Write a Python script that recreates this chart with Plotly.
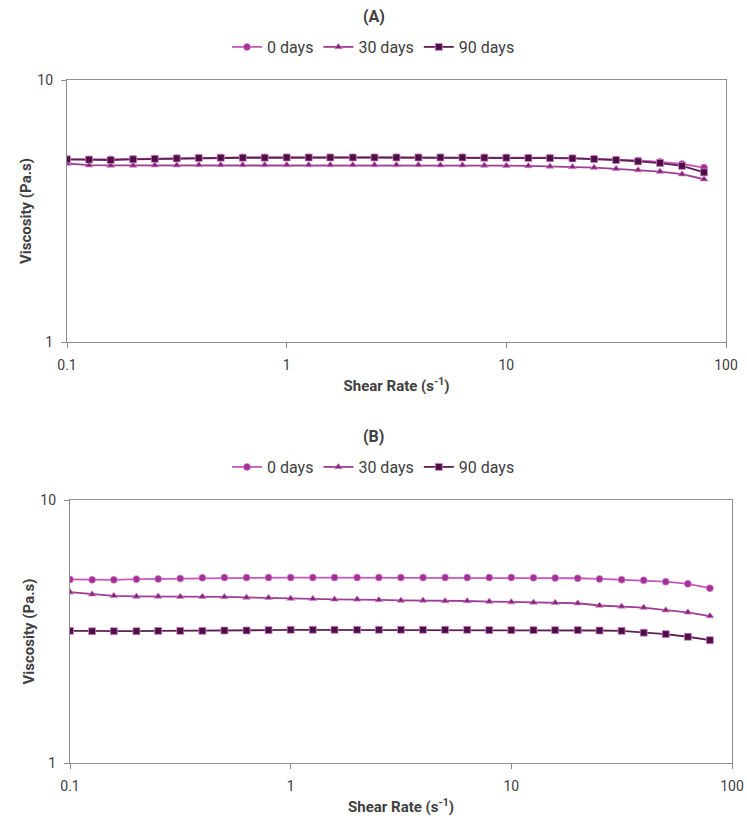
import plotly.graph_objects as go

# Shear rates (s^-1), ten points per decade
shear_rate = [0.1, 0.126, 0.158, 0.2, 0.251, 0.316, 0.398, 0.501, 0.631, 0.794,
              1.0, 1.26, 1.58, 2.0, 2.51, 3.16, 3.98, 5.01, 6.31, 7.94,
              10.0, 12.6, 15.8, 20.0, 25.1, 31.6, 39.8, 50.1, 63.1, 79.4]

series_names = ["0 days", "30 days", "90 days"]

# Panel (A) viscosity (Pa.s)
a_0 = [4.98, 4.97, 4.98, 5.00, 5.02, 5.03, 5.05, 5.06, 5.07, 5.07,
       5.07, 5.07, 5.07, 5.07, 5.07, 5.07, 5.07, 5.07, 5.07, 5.07,
       5.06, 5.06, 5.05, 5.03, 5.00, 4.97, 4.93, 4.87, 4.78, 4.63]
a_30 = [4.80, 4.73, 4.72, 4.72, 4.73, 4.73, 4.74, 4.74, 4.74, 4.74,
        4.74, 4.74, 4.74, 4.74, 4.74, 4.74, 4.74, 4.73, 4.73, 4.72,
        4.71, 4.70, 4.68, 4.66, 4.63, 4.58, 4.53, 4.47, 4.37, 4.18]
a_90 = [4.98, 4.97, 4.95, 4.98, 5.00, 5.02, 5.04, 5.05, 5.05, 5.05,
        5.06, 5.06, 5.06, 5.06, 5.06, 5.06, 5.06, 5.06, 5.06, 5.05,
        5.05, 5.04, 5.03, 5.02, 4.99, 4.95, 4.89, 4.82, 4.70, 4.44]

# Panel (B) viscosity (Pa.s)
b_0 = [4.99, 4.97, 4.97, 5.00, 5.01, 5.03, 5.06, 5.07, 5.07, 5.07,
       5.07, 5.07, 5.07, 5.07, 5.07, 5.07, 5.07, 5.07, 5.07, 5.07,
       5.07, 5.06, 5.05, 5.04, 5.01, 4.98, 4.95, 4.89, 4.80, 4.62]
b_30 = [4.46, 4.38, 4.32, 4.30, 4.30, 4.29, 4.29, 4.28, 4.26, 4.25,
        4.22, 4.21, 4.19, 4.19, 4.17, 4.15, 4.15, 4.13, 4.13, 4.11,
        4.09, 4.08, 4.07, 4.05, 3.97, 3.94, 3.90, 3.81, 3.74, 3.62]
b_90 = [3.18, 3.17, 3.17, 3.17, 3.18, 3.18, 3.18, 3.19, 3.19, 3.20,
        3.21, 3.21, 3.21, 3.21, 3.21, 3.21, 3.21, 3.21, 3.21, 3.20,
        3.20, 3.20, 3.20, 3.20, 3.19, 3.18, 3.13, 3.09, 3.02, 2.93]

line_colors = ["#C558B9", "#9E3F93", "#5E1E56"]
marker_colors = ["#A32F97", "#86257B", "#4E0E46"]
symbols = ["circle", "triangle-up", "square"]

W, H = 747, 821
FONT = "Roboto, Arial, sans-serif"
AXIS_GREY = "#8C8C8C"
TEXT_GREY = "#404040"

fig = go.Figure()

panels = [
    ([a_0, a_30, a_90], "x", "y", "legend"),
    ([b_0, b_30, b_90], "x2", "y2", "legend2"),
]
for values, xa, ya, lg in panels:
    for name, vals, lc, mc, sym in zip(series_names, values, line_colors,
                                       marker_colors, symbols):
        fig.add_trace(go.Scatter(
            x=shear_rate, y=vals, name=name, mode="lines+markers",
            xaxis=xa, yaxis=ya, legend=lg,
            line=dict(color=lc, width=1.8),
            marker=dict(symbol=sym, color=mc, size=7,
                        line=dict(color="rgba(214,140,205,0.9)", width=0.8)),
        ))


def xdom(l, r):
    return [l / W, r / W]


def ydom(t, b):
    return [1 - b / H, 1 - t / H]


axis_common = dict(
    type="log", showline=True, linecolor=AXIS_GREY, linewidth=1.3, mirror=True,
    ticks="outside", ticklen=5, tickcolor=AXIS_GREY, tickwidth=1.2,
    showgrid=False, zeroline=False, automargin=False, ticklabelstandoff=5,
    tickfont=dict(family=FONT, size=14, color=TEXT_GREY),
)

xtitle = dict(text="<b>Shear Rate (s<sup>-1</sup>)</b>",
              font=dict(family=FONT, size=15, color=TEXT_GREY), standoff=8)
ytitle = dict(text="<b>Viscosity (Pa.s)</b>",
              font=dict(family=FONT, size=15, color=TEXT_GREY), standoff=2)

xticks = dict(tickvals=[0.1, 1, 10, 100], ticktext=["0.1", "1", "10", "100"])
yticks = dict(tickvals=[1, 10], ticktext=["1", "10"])

legend_common = dict(orientation="h", x=0.5, xanchor="center", yanchor="middle",
                     font=dict(family=FONT, size=16, color=TEXT_GREY),
                     itemwidth=30, tracegroupgap=0, bgcolor="rgba(0,0,0,0)")

fig.update_layout(
    width=W, height=H,
    margin=dict(l=0, r=0, t=0, b=0, autoexpand=False),
    paper_bgcolor="white", plot_bgcolor="white",
    font=dict(family=FONT, color=TEXT_GREY),
    xaxis=dict(axis_common, domain=xdom(67, 726), range=[-1, 2],
               anchor="y", title=xtitle, **xticks),
    yaxis=dict(axis_common, domain=ydom(80, 342), range=[0, 1],
               anchor="x", title=ytitle, **yticks),
    xaxis2=dict(axis_common, domain=xdom(70, 732), range=[-1, 2],
                anchor="y2", title=xtitle, **xticks),
    yaxis2=dict(axis_common, domain=ydom(500, 763), range=[0, 1],
                anchor="x2", title=ytitle, **yticks),
    legend=dict(legend_common, y=1 - 47 / H),
    legend2=dict(legend_common, y=1 - 467 / H),
    annotations=[
        dict(text="<b>(A)</b>", x=0.5, y=1 - 16 / H, xref="paper", yref="paper",
             yanchor="middle", showarrow=False,
             font=dict(family=FONT, size=16, color=TEXT_GREY)),
        dict(text="<b>(B)</b>", x=0.5, y=1 - 436 / H, xref="paper", yref="paper",
             yanchor="middle", showarrow=False,
             font=dict(family=FONT, size=16, color=TEXT_GREY)),
    ],
    showlegend=True,
)

fig.write_html("out.html")
